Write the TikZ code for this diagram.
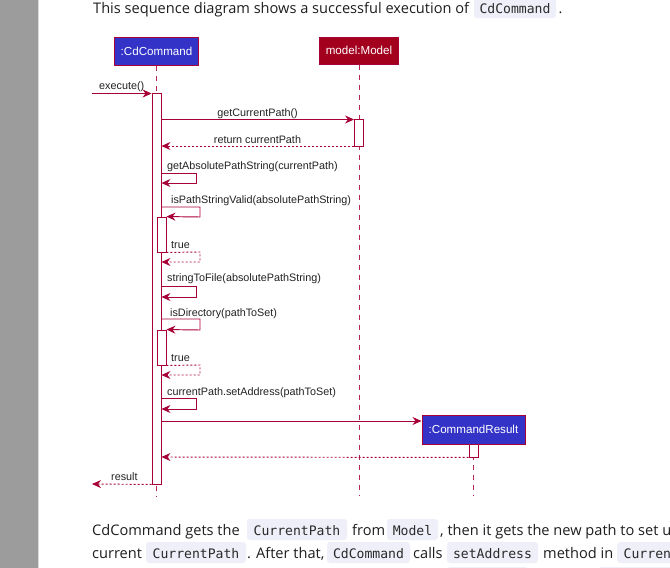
\documentclass[tikz,border=0pt]{standalone}
\usepackage{fontspec}
\setmainfont{Open Sans}
\newfontfamily\diagfont{Liberation Sans}
\newfontfamily\codefont{DejaVu Sans Mono}
\usetikzlibrary{arrows.meta}
\definecolor{umlred}{HTML}{A80036}
\definecolor{umlblue}{HTML}{3333C8}
\definecolor{modelred}{HTML}{A3001E}
\definecolor{pagegray}{HTML}{9C9C9C}
\definecolor{bordergray}{HTML}{DADADA}
\definecolor{codebg}{HTML}{EEEFF8}
\definecolor{bodytext}{HTML}{1E1E1E}
\definecolor{codetext}{HTML}{2A2A2A}
\definecolor{labeltext}{HTML}{222222}
\tikzset{
  participant/.style={draw=umlred, line width=1pt, text=white, inner sep=0pt,
    font=\diagfont\fontsize{11.6}{13}\selectfont},
  actbox/.style={draw=umlred, fill=white, line width=0.9pt, minimum width=9pt, inner sep=0pt},
  msg/.style={draw=umlred, line width=0.95pt, -{Stealth[length=9pt,width=8pt,inset=3pt]}},
  ret/.style={msg, dash pattern=on 2pt off 2pt},
  lifeline/.style={draw=umlred!85, line width=0.8pt, dash pattern=on 5pt off 5pt},
  msglabel/.style={font=\diagfont\fontsize{10.8}{12}\selectfont, text=labeltext, inner sep=0pt},
  body/.style={font=\fontsize{14.6}{17}\selectfont, text=bodytext, inner sep=0pt, anchor=base west},
  codebox/.style={fill=codebg, rounded corners=3pt, inner xsep=0pt, inner ysep=0pt,
    text height=16pt, text depth=5pt, font=\codefont\fontsize{13.1}{15}\selectfont,
    text=codetext, anchor=base}
}
\begin{document}
\begin{tikzpicture}[x=1pt,y=-1pt]
\useasboundingbox (0,0) rectangle (670,568);
\clip (0,0) rectangle (670,568);
\fill[white] (0,0) rectangle (670,568);
% page side bar
\fill[pagegray] (0,0) rectangle (37.5,568);
\fill[bordergray] (37.5,0) rectangle (39,568);

% top text
\node[body] (t1) at (93,13) {This sequence diagram shows a successful execution of};
\node[codebox, minimum width=82pt] (t2) at (515,13) {CdCommand};
\node[body] (t3) at (558.5,13) {.};

% participants
\node[participant, fill=umlblue, minimum width=84pt, minimum height=28pt] (cd) at (156.5,51) {:CdCommand};
\node[participant, fill=modelred, minimum width=79pt, minimum height=27pt] (model) at (359,50.5) {model:Model};
\node[participant, fill=umlblue, minimum width=103pt, minimum height=29pt] (cr) at (473.5,429.5) {:CommandResult};

% lifelines
\coordinate (cdend) at (156.5,496);
\coordinate (modelend) at (359,496);
\coordinate (crend) at (473.5,496);
\draw[lifeline] (cd.south) -- (cdend);
\draw[lifeline] (model.south) -- (modelend);
\draw[lifeline] (cr.south) -- (crend);

% activations
\node[actbox, minimum height=391pt] (act1) at (156.5,288.5) {};
\node[actbox, minimum height=27pt] (actM) at (359,132.5) {};
\node[actbox, minimum height=35pt] (act2) at (161.5,234.5) {};
\node[actbox, minimum height=35pt] (act3) at (161.5,347.5) {};
\node[actbox, minimum height=13pt] (actR) at (473.5,450.5) {};

% execute()
\coordinate (execsrc) at (92,93.5);
\draw[msg] (execsrc) -- (act1.west |- 0,93.5);
\node[msglabel, anchor=base west] (lexec) at (99,89.5) {execute()};

% getCurrentPath
\draw[msg] (act1.east |- 0,119.5) -- (actM.west |- 0,119.5);
\node[msglabel, anchor=base] (lgcp) at (257.5,116) {getCurrentPath()};
\draw[ret] (actM.west |- 0,146) -- (act1.east |- 0,146);
\node[msglabel, anchor=base] (lrcp) at (257.5,143) {return currentPath};

% getAbsolutePathString
\draw[msg] (act1.east |- 0,173) -- (196,173) -- (196,183) -- (act1.east |- 0,183);
\node[msglabel, anchor=base west] (lgap) at (167,169) {getAbsolutePathString(currentPath)};

% isPathStringValid
\draw[msg] (act1.east |- 0,207) -- (200,207) -- (200,217) -- (act2.north east);
\node[msglabel, anchor=base west] (lipv) at (171,203) {isPathStringValid(absolutePathString)};
\draw[ret] (act2.south east) -- (200,252) -- (200,262) -- (act1.east |- 0,262);
\node[msglabel, anchor=base west] (ltrue1) at (171,248) {true};

% stringToFile
\draw[msg] (act1.east |- 0,286) -- (196,286) -- (196,297) -- (act1.east |- 0,297);
\node[msglabel, anchor=base west] (lstf) at (167,281) {stringToFile(absolutePathString)};

% isDirectory
\draw[msg] (act1.east |- 0,319) -- (200,319) -- (200,330) -- (act3.north east);
\node[msglabel, anchor=base west] (lisd) at (170,316) {isDirectory(pathToSet)};
\draw[ret] (act3.south east) -- (200,365) -- (200,375) -- (act1.east |- 0,375);
\node[msglabel, anchor=base west] (ltrue2) at (171,361) {true};

% setAddress
\draw[msg] (act1.east |- 0,398) -- (196,398) -- (196,409) -- (act1.east |- 0,409);
\node[msglabel, anchor=base west] (lsa) at (167,395) {currentPath.setAddress(pathToSet)};

% create CommandResult
\draw[msg] (act1.east |- 0,421) -- (cr.west |- 0,421);
\draw[ret] (actR.south west) -- (act1.east |- 0,457);

% result
\coordinate (resdst) at (92,484);
\draw[ret] (act1.south west) -- (resdst);
\node[msglabel, anchor=base west] (lres) at (111,480) {result};

% bottom text line 1
\node[body] (b1) at (92,535) {CdCommand gets the};
\node[codebox, minimum width=100pt] (b2) at (297,535) {CurrentPath};
\node[body] (b3) at (352,535) {from};
\node[codebox, minimum width=51pt] (b4) at (412.5,535) {Model};
\node[body] (b5) at (440,535) {, then it gets the new path to set u};

% bottom text line 2
\node[body] (c1) at (92,558) {current};
\node[codebox, minimum width=100pt] (c2) at (196,558) {CurrentPath};
\node[body] (c3) at (247,558) {. After that,};
\node[codebox, minimum width=83pt] (c4) at (368.5,558) {CdCommand};
\node[body] (c5) at (413,558) {calls};
\node[codebox, minimum width=91pt] (c6) at (492.5,558) {setAddress};
\node[body] (c7) at (543,558) {method in};
\node[codebox, anchor=base west, inner xsep=6.5pt, minimum width=60pt] (c8) at (617,558) {Curren};

% tops of the code boxes of line 3
\fill[codebg, rounded corners=3pt] (447,567) rectangle (528,590);
\fill[codebg, rounded corners=3pt] (598,567) rectangle (690,590);
\end{tikzpicture}
\end{document}
